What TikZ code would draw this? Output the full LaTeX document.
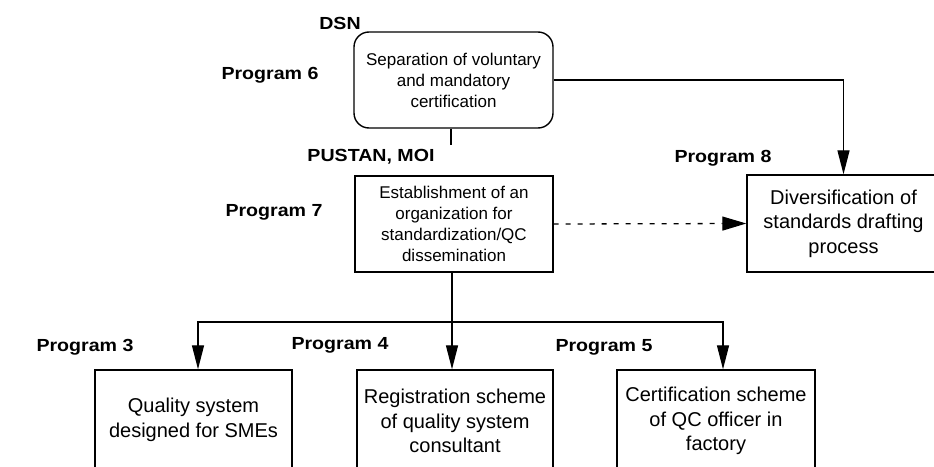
\documentclass[tikz,border=0pt]{standalone}
\usepackage{fontspec}
\setmainfont{Liberation Sans}
\newfontfamily\lblfont[FakeStretch=1.12]{Liberation Sans}
\usetikzlibrary{arrows.meta}
\tikzset{
  boxa/.style={draw, line width=1.4pt, align=center, inner sep=2pt,
    font=\fontsize{17}{21}\selectfont},
  boxb/.style={draw, line width=1.4pt, align=center, inner sep=2pt,
    font=\fontsize{20}{24.5}\selectfont},
  lbl/.style={font=\lblfont\bfseries\fontsize{17.5}{20}\selectfont, inner sep=0pt},
  conn/.style={line width=1.3pt},
  arr/.style={conn, -{Triangle[length=24pt,width=12pt]}},
  dotarr/.style={conn, dash pattern=on 5pt off 7pt, -{Triangle[length=24pt,width=14pt]}}
}
\begin{document}
\begin{tikzpicture}[x=1pt,y=-1pt]
\useasboundingbox (0,0) rectangle (934,466);
\clip (0,0) rectangle (934,466);
\fill[white] (0,0) rectangle (934,466);

% boxes
\node[boxa, rounded corners=15pt, minimum width=199pt, minimum height=96pt] (sep) at (453.5,80)
  {Separation of voluntary\\and mandatory\\certification};
\node[boxa, minimum width=198pt, minimum height=96pt] (est) at (454,224)
  {Establishment of an\\organization for\\standardization/QC\\dissemination};
\node[boxb, minimum width=193pt, minimum height=97pt] (div) at (843.5,223.5)
  {Diversification of\\standards drafting\\process};
\node[boxb, minimum width=197pt, minimum height=100pt] (q1) at (193.5,420)
  {Quality system\\designed for SMEs};
\node[boxb, minimum width=196pt, minimum height=102pt] (q2) at (455,421)
  {Registration scheme\\of quality system\\consultant};
\node[boxb, minimum width=198pt, minimum height=102pt] (q3) at (716,421)
  {Certification scheme\\of QC officer in\\factory};

% labels
\node[lbl] (dsn) at (340,23) {DSN};
\node[lbl] (p6) at (270,75) {Program 6};
\node[lbl] (pustan) at (371,157) {PUSTAN, MOI};
\node[lbl] (p7) at (274,212) {Program 7};
\node[lbl] (p8) at (723,158) {Program 8};
\node[lbl] (p3) at (85,347) {Program 3};
\node[lbl] (p4) at (340,345) {Program 4};
\node[lbl] (p5) at (604,347) {Program 5};

% connectors
\coordinate (stub) at (451,145);
\draw[conn] (sep.south -| stub) -- (stub);
\draw[arr] (sep.east) -| (div.north);
\draw[dotarr] (est.east) -- (div.west);
\coordinate (br) at (452,322);
\draw[conn] (est.south -| br) -- (br);
\draw[arr] (br) -- (br |- q2.north);
\draw[arr] (br) -| ([xshift=4.5pt]q1.north);
\draw[arr] (br) -| ([xshift=7pt]q3.north);
\end{tikzpicture}
\end{document}
